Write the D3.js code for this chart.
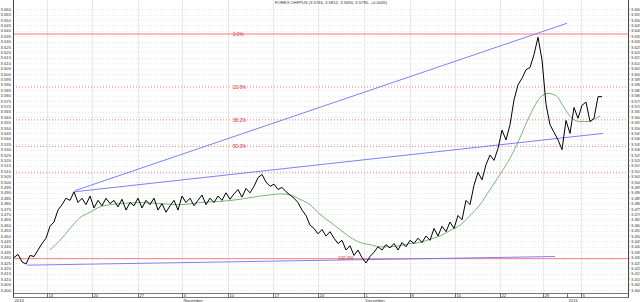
<!DOCTYPE html>
<html lang="en">
<head>
<meta charset="UTF-8">
<title>FOREX CHFPLN</title>
<style>
    body { margin: 0; background: #fff; }
    svg { display: block; font-family: "Liberation Sans", Arial, sans-serif; }
    .lbl { font-size: 4.2px; fill: #333; }
</style>
</head>
<body>
<script src="https://d3js.org/d3.v7.min.js"></script>
<script>
// price, one value per bar
const prices = [
    3.430, 3.433, 3.426, 3.424, 3.432, 3.431, 3.437, 3.443, 3.448, 3.459,
    3.463, 3.474, 3.479, 3.485, 3.483, 3.491, 3.481, 3.485, 3.479, 3.487,
    3.476, 3.483, 3.478, 3.485, 3.480, 3.483, 3.477, 3.484, 3.474, 3.481,
    3.478, 3.485, 3.476, 3.483, 3.479, 3.485, 3.474, 3.480, 3.472, 3.478,
    3.483, 3.474, 3.487, 3.481, 3.485, 3.478, 3.483, 3.488, 3.479, 3.485,
    3.481, 3.487, 3.483, 3.490, 3.484, 3.489, 3.493, 3.486, 3.494, 3.490,
    3.496, 3.504, 3.507, 3.500, 3.496, 3.498, 3.493, 3.495, 3.491, 3.488,
    3.485, 3.481, 3.474, 3.469, 3.460, 3.457, 3.452, 3.456, 3.450, 3.454,
    3.448, 3.443, 3.446, 3.437, 3.441, 3.432, 3.437, 3.430, 3.425, 3.431,
    3.435, 3.440, 3.437, 3.442, 3.439, 3.443, 3.437, 3.444, 3.440, 3.446,
    3.443, 3.448, 3.444, 3.450, 3.446, 3.457, 3.450, 3.459, 3.454, 3.463,
    3.457, 3.469, 3.465, 3.483, 3.479, 3.497, 3.509, 3.502, 3.516, 3.525,
    3.520, 3.531, 3.548, 3.539, 3.553, 3.576, 3.590, 3.596, 3.604, 3.606,
    3.618, 3.634, 3.613, 3.572, 3.553, 3.546, 3.539, 3.530, 3.557, 3.545,
    3.569, 3.559, 3.571, 3.574, 3.556, 3.559, 3.579, 3.579
];

// moving average (bar index, value)
const maIndex = [9, 11.5, 14, 16.5, 19, 21.5, 24, 26.5, 31.5, 36.5, 41.5, 46.5, 51.5, 56.5,
    61.5, 64, 66.5, 69, 71.5, 74, 76.5, 79, 81.5, 84, 86.5, 89, 91.5, 94, 96.5, 99, 101.5,
    104, 106.5, 109, 111.5, 114, 116.5, 119, 121.5, 124, 126.5, 129, 131.5, 133.5, 135.5,
    137.5, 139.5, 141.5, 143.5, 145.5, 146.5];
const maValue = [3.437, 3.446, 3.457, 3.467, 3.472, 3.477, 3.479, 3.480, 3.481, 3.480, 3.479,
    3.481, 3.482, 3.484, 3.487, 3.488, 3.489, 3.488, 3.484, 3.479, 3.470, 3.463, 3.456, 3.449,
    3.444, 3.442, 3.440, 3.440, 3.441, 3.443, 3.444, 3.447, 3.450, 3.455, 3.460, 3.469, 3.479,
    3.493, 3.507, 3.522, 3.541, 3.562, 3.578, 3.582, 3.580, 3.569, 3.559, 3.556, 3.556,
    3.559, 3.561];

// trend lines [startIdx, startVal, endIdx, endVal]
const trendLines = [
    [15.25, 3.492, 138.25, 3.647],
    [15.25, 3.491, 147.25, 3.545],
    [3.25, 3.423, 135.25, 3.431]
];

// fibonacci retracement
const fibHigh = 3.637;
const fibLow = 3.429;
const fibRatios = [0, 0.236, 0.382, 0.5, 0.618, 1];
const fibLabels = ["0.0%", "23.6%", "38.2%", "50.0%", "", "100.0%"];

// x axis
const weekTicks = [8.25, 19.5, 31, 42, 53.5, 64.75, 76, 87.5, 99, 110.25, 121.5, 132.25, 138.25, 141.75];
const weekLabels = ["13", "20", "27", "3", "10", "17", "24", "1", "8", "15", "22", "29", "", "5"];
const monthTicks = [-0.25, 42, 87.5, 138.25];
const monthLabels = ["2014", "November", "December", "2015"];

const yTicks = d3.range(3.400, 3.6601, 0.005);
const title = "FOREX CHFPLN (3.5745, 3.5812, 3.5690, 3.5790, +0.0045)";

const W = 640, H = 302;
const plotL = 13, plotR = 628, plotT = 0, plotB = 293;

const svg = d3.select("body").append("svg").attr("width", W).attr("height", H);

const x = d3.scaleLinear().domain([-0.25, 153.5]).range([plotL, plotR]);
const y = d3.scaleLinear().domain([3.400, 3.660]).range([290, 9.2]);

// grid
svg.append("g").selectAll("line").data(yTicks).join("line")
    .attr("x1", plotL).attr("x2", plotR)
    .attr("y1", d => Math.round(y(d)) + 0.5).attr("y2", d => Math.round(y(d)) + 0.5)
    .attr("stroke", "#d8d8d8").attr("stroke-width", 0.6).attr("stroke-dasharray", "1,2");

svg.append("g").selectAll("line").data(weekTicks.filter((d, i) => weekLabels[i] !== "")).join("line")
    .attr("x1", d => Math.round(x(d)) + 0.5).attr("x2", d => Math.round(x(d)) + 0.5)
    .attr("y1", plotT).attr("y2", plotB)
    .attr("stroke", "#e2e2e2").attr("stroke-width", 0.8);

// fib lines
const fibVals = fibRatios.map(r => fibHigh - (fibHigh - fibLow) * r);
const isEdge = i => i === 0 || i === fibVals.length - 1;
svg.append("g").selectAll("line").data(fibVals).join("line")
    .attr("x1", plotL).attr("x2", plotR)
    .attr("y1", d => y(d)).attr("y2", d => y(d))
    .attr("stroke", (d, i) => isEdge(i) ? "#f27a86" : "#e85050")
    .attr("stroke-width", (d, i) => isEdge(i) ? 1 : 0.7)
    .attr("stroke-dasharray", (d, i) => isEdge(i) ? null : "1,2");

svg.append("g").selectAll("text").data(fibVals).join("text")
    .attr("x", (d, i) => i === fibVals.length - 1 ? 338 : 233)
    .attr("y", d => y(d) + 1.7)
    .attr("font-size", 4.6).attr("fill", "#d03030")
    .text((d, i) => fibLabels[i]);

// trend lines
svg.append("g").selectAll("line").data(trendLines).join("line")
    .attr("x1", d => x(d[0])).attr("y1", d => y(d[1]))
    .attr("x2", d => x(d[2])).attr("y2", d => y(d[3]))
    .attr("stroke", "#7272ee").attr("stroke-width", 0.9);

// moving average
svg.append("path")
    .datum(maIndex.map((d, i) => [d, maValue[i]]))
    .attr("fill", "none").attr("stroke", "#5aa05a").attr("stroke-width", 0.8)
    .attr("d", d3.line().x(d => x(d[0])).y(d => y(d[1])).curve(d3.curveMonotoneX));

// price
svg.append("path")
    .datum(prices)
    .attr("fill", "none").attr("stroke", "#000").attr("stroke-width", 1)
    .attr("stroke-linejoin", "round")
    .attr("d", d3.line().x((d, i) => x(i)).y(d => y(d)));

// axes frame
svg.append("line").attr("x1", plotL + 0.5).attr("x2", plotL + 0.5).attr("y1", plotT).attr("y2", 297)
    .attr("stroke", "#444").attr("stroke-width", 1);
svg.append("line").attr("x1", plotR + 0.5).attr("x2", plotR + 0.5).attr("y1", plotT).attr("y2", 297)
    .attr("stroke", "#444").attr("stroke-width", 1);
svg.append("line").attr("x1", plotL).attr("x2", plotR + 1).attr("y1", plotB + 0.5).attr("y2", plotB + 0.5)
    .attr("stroke", "#555").attr("stroke-width", 0.8);
svg.append("line").attr("x1", plotL).attr("x2", plotR + 1).attr("y1", 297.5).attr("y2", 297.5)
    .attr("stroke", "#555").attr("stroke-width", 0.8);

// y labels both sides
svg.append("g").selectAll("text").data(yTicks).join("text")
    .attr("class", "lbl").attr("x", 11).attr("y", d => y(d) + 1.5)
    .attr("text-anchor", "end").text(d => d.toFixed(3));
svg.append("g").selectAll("text").data(yTicks).join("text")
    .attr("class", "lbl").attr("x", 631).attr("y", d => y(d) + 1.5)
    .text(d => d.toFixed(3));
svg.append("g").selectAll("line").data(yTicks).join("line")
    .attr("x1", plotR).attr("x2", plotR + 2)
    .attr("y1", d => y(d)).attr("y2", d => y(d))
    .attr("stroke", "#666").attr("stroke-width", 0.5);

// x band ticks + labels
svg.append("g").selectAll("line").data(weekTicks).join("line")
    .attr("x1", d => Math.round(x(d)) + 0.5).attr("x2", d => Math.round(x(d)) + 0.5)
    .attr("y1", plotB).attr("y2", 298)
    .attr("stroke", "#555").attr("stroke-width", 0.8);
svg.append("g").selectAll("text").data(weekTicks).join("text")
    .attr("class", "lbl").attr("x", d => x(d) + 1.5).attr("y", 297)
    .attr("font-size", 3.6)
    .text((d, i) => weekLabels[i]);
svg.append("g").selectAll("text").data(monthTicks).join("text")
    .attr("class", "lbl").attr("x", d => x(d) + 1.5).attr("y", 301.5)
    .text((d, i) => monthLabels[i]);

// title
svg.append("text").attr("class", "lbl").attr("x", 275).attr("y", 4)
    .attr("fill", "#555").attr("font-size", 3.6).text(title);
</script>
</body>
</html>
